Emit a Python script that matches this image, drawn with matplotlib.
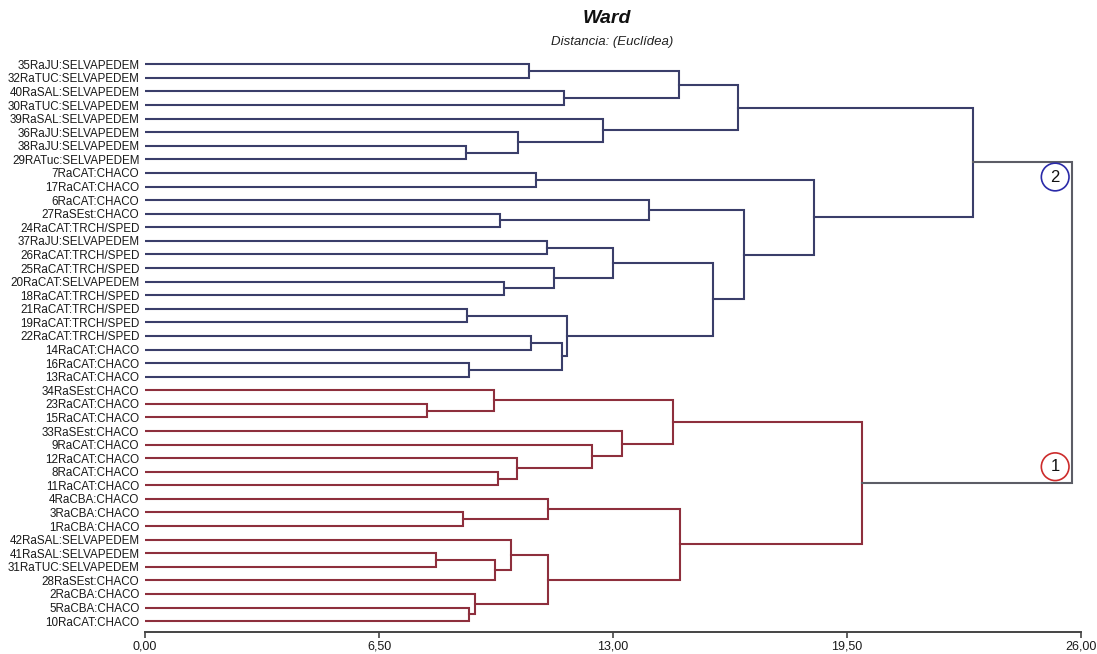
import matplotlib
matplotlib.use('Agg')
import matplotlib.pyplot as plt

plt.rcParams['font.family'] = ['Liberation Sans', 'DejaVu Sans']

# leaves, top to bottom
leaves = [
    '35RaJU:SELVAPEDEM', '32RaTUC:SELVAPEDEM', '40RaSAL:SELVAPEDEM',
    '30RaTUC:SELVAPEDEM', '39RaSAL:SELVAPEDEM', '36RaJU:SELVAPEDEM',
    '38RaJU:SELVAPEDEM', '29RATuc:SELVAPEDEM', '7RaCAT:CHACO',
    '17RaCAT:CHACO', '6RaCAT:CHACO', '27RaSEst:CHACO',
    '24RaCAT:TRCH/SPED', '37RaJU:SELVAPEDEM', '26RaCAT:TRCH/SPED',
    '25RaCAT:TRCH/SPED', '20RaCAT:SELVAPEDEM', '18RaCAT:TRCH/SPED',
    '21RaCAT:TRCH/SPED', '19RaCAT:TRCH/SPED', '22RaCAT:TRCH/SPED',
    '14RaCAT:CHACO', '16RaCAT:CHACO', '13RaCAT:CHACO',
    '34RaSEst:CHACO', '23RaCAT:CHACO', '15RaCAT:CHACO',
    '33RaSEst:CHACO', '9RaCAT:CHACO', '12RaCAT:CHACO',
    '8RaCAT:CHACO', '11RaCAT:CHACO', '4RaCBA:CHACO',
    '3RaCBA:CHACO', '1RaCBA:CHACO', '42RaSAL:SELVAPEDEM',
    '41RaSAL:SELVAPEDEM', '31RaTUC:SELVAPEDEM', '28RaSEst:CHACO',
    '2RaCBA:CHACO', '5RaCBA:CHACO', '10RaCAT:CHACO',
]

# merges: ids 0..41 are leaves, merge k creates node 42 + k
merge_a = [0, 2, 42, 6, 5, 4, 44, 8, 11, 10, 13, 16, 15, 52, 18, 20, 22, 57, 56, 55, 51, 49, 48,
           25, 24, 30, 29, 28, 27, 66, 33, 32, 36, 74, 35, 40, 39, 76, 73, 71, 64]
merge_b = [1, 3, 43, 7, 45, 46, 47, 9, 12, 50, 14, 17, 53, 54, 19, 21, 23, 58, 59, 60, 61, 62, 63,
           26, 65, 31, 67, 68, 69, 70, 34, 72, 37, 38, 75, 41, 77, 78, 79, 80, 81]
merge_h = [10.67, 11.64, 14.83, 8.92, 10.36, 12.72, 16.47, 10.86, 9.86, 14.00, 11.17,
           9.97, 11.36, 13.00, 8.94, 10.72, 9.00, 11.58, 11.72, 15.78, 16.64, 18.58, 23.00,
           7.83, 9.69, 9.81, 10.33, 12.42, 13.25, 14.67, 8.83, 11.19, 8.08, 9.72, 10.17,
           9.00, 9.17, 11.19, 14.86, 19.92, 25.75]
# cluster of each merge: 2 = blue group, 1 = red group, 0 = root
merge_group = [2] * 23 + [1] * 17 + [0]

xticks = [0.0, 6.5, 13.0, 19.5, 26.0]
xticklabels = ['0,00', '6,50', '13,00', '19,50', '26,00']

colors = {2: '#3a3e6a', 1: '#8e2f3d', 0: '#5c5d66'}

fig = plt.figure(figsize=(10.97, 6.54), dpi=100)
ax = fig.add_axes([0.1322, 0.0336, 0.8533, 0.8889])

n = len(leaves)
pos = {i: (0.0, float(i)) for i in range(n)}
for k, (a, b, h) in enumerate(zip(merge_a, merge_b, merge_h)):
    xa, ya = pos[a]
    xb, yb = pos[b]
    ax.plot([xa, h, h, xb], [ya, ya, yb, yb], color=colors[merge_group[k]],
            lw=1.5, solid_joinstyle='miter')
    pos[n + k] = (h, (ya + yb) / 2)

ax.set_xlim(0, 26)
ax.set_ylim(41.8, -1)
ax.set_yticks(range(n))
ax.set_yticklabels(leaves, fontsize=8.4, color='#1a1a1a')
ax.tick_params(axis='y', length=0, pad=4)
ax.set_xticks(xticks)
ax.set_xticklabels(xticklabels, fontsize=9, color='#1a1a1a')
ax.tick_params(axis='x', length=4, width=1.2, color='#444444', pad=2)
for s in ['top', 'right', 'left']:
    ax.spines[s].set_visible(False)
ax.spines['bottom'].set_color('#444444')
ax.spines['bottom'].set_linewidth(1.4)

# cluster markers
ax.text(25.28, 8.3, '2', fontsize=12, ha='center', va='center', color='#111111',
        bbox=dict(boxstyle='circle,pad=0.38', fc='white', ec='#2a2aa8', lw=1.2))
ax.text(25.28, 29.63, '1', fontsize=12, ha='center', va='center', color='#111111',
        bbox=dict(boxstyle='circle,pad=0.38', fc='white', ec='#cc2b2b', lw=1.2))

fig.text(0.553, 0.971, 'Ward', fontsize=14, fontweight='bold', style='italic',
         ha='center', va='center', color='#111111')
fig.text(0.558, 0.936, 'Distancia: (Euclídea)', fontsize=9.5, style='italic',
         ha='center', va='center', color='#222222')

fig.savefig('out.png', dpi=100)
